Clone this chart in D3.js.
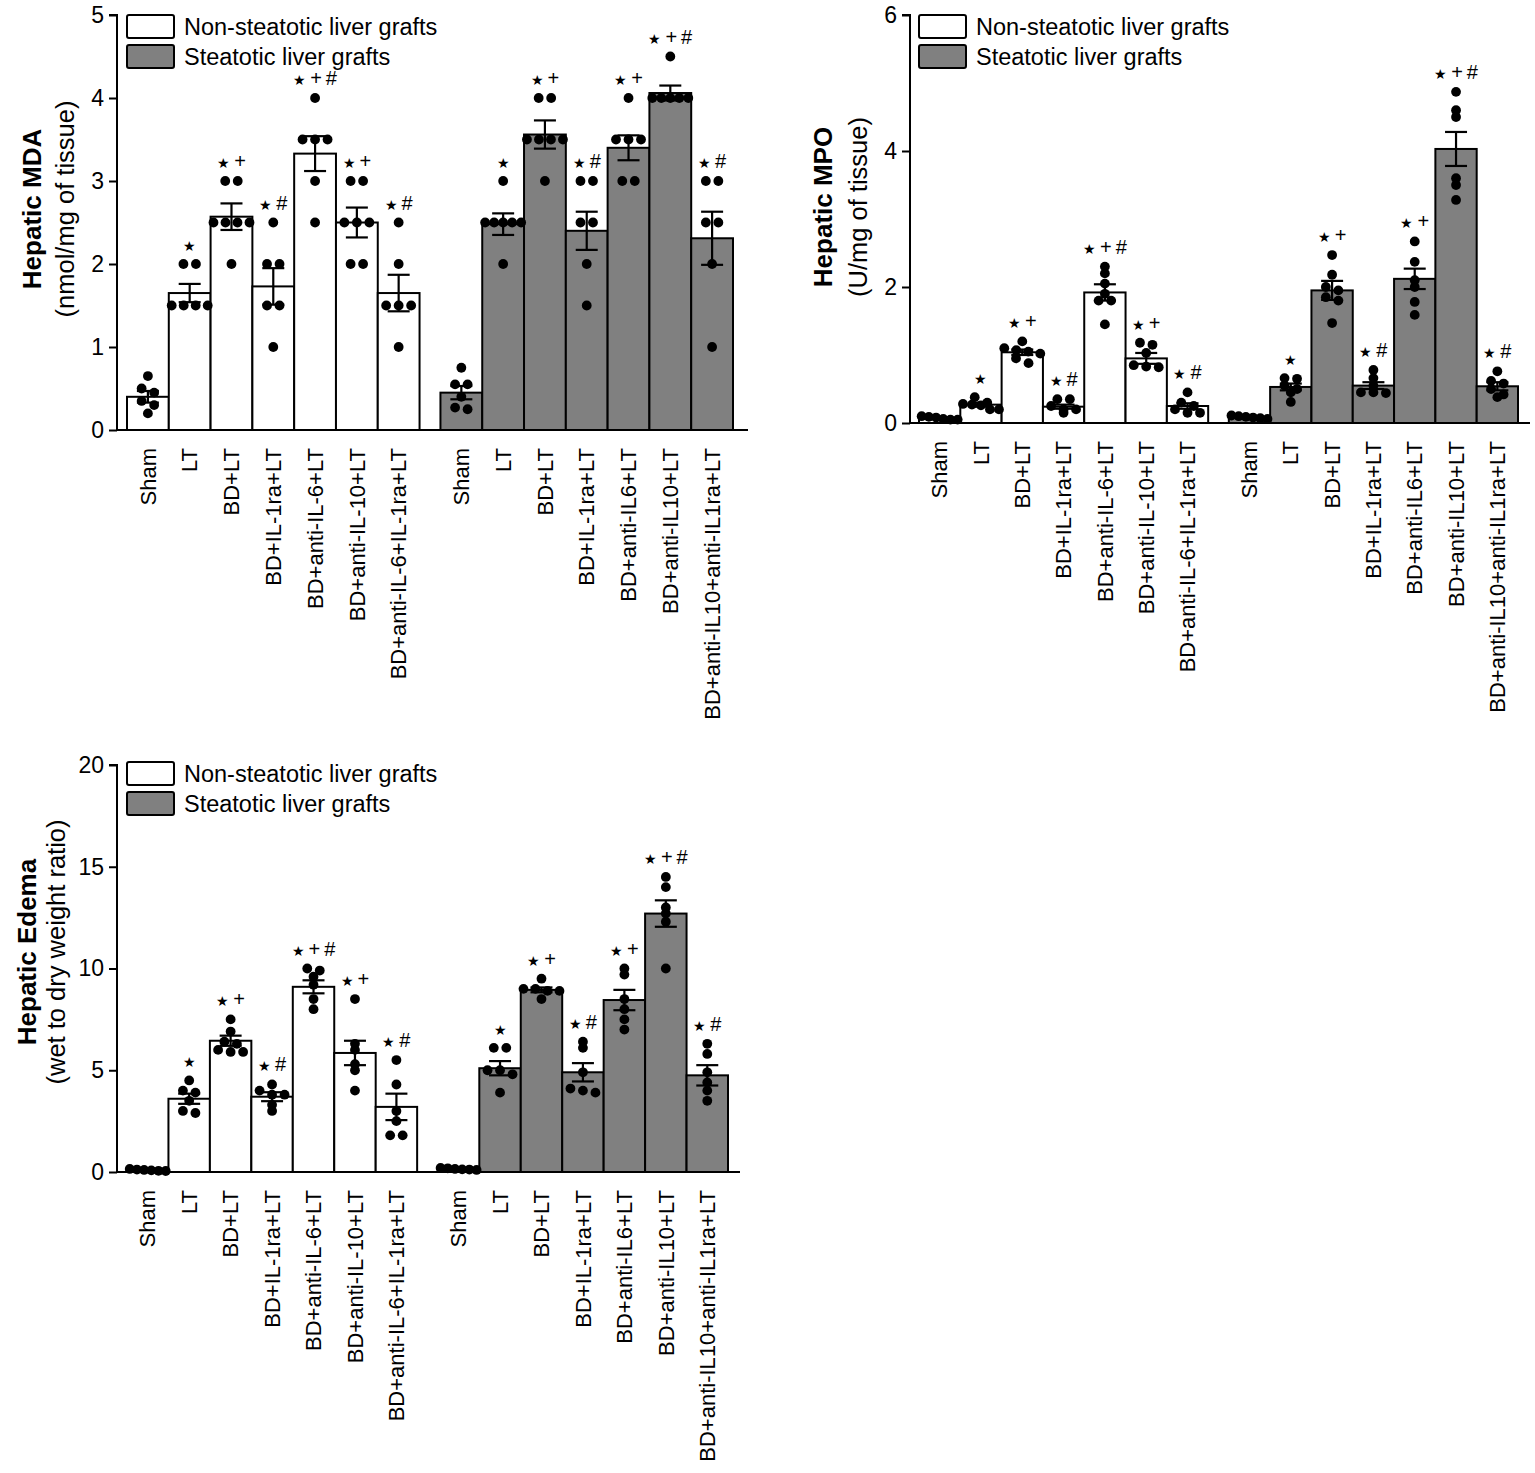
<!DOCTYPE html>
<html><head><meta charset="utf-8">
<script src="https://cdn.jsdelivr.net/npm/d3@7/dist/d3.min.js"></script>
<style>body{margin:0;background:#fff}svg{display:block}</style>
</head><body>
<svg id="c" width="1535" height="1473"></svg>
<script>
// ---------- DATA ----------
const catNon = ["Sham","LT","BD+LT","BD+IL-1ra+LT","BD+anti-IL-6+LT","BD+anti-IL-10+LT","BD+anti-IL-6+IL-1ra+LT"];
const catSteat = ["Sham","LT","BD+LT","BD+IL-1ra+LT","BD+anti-IL6+LT","BD+anti-IL10+LT","BD+anti-IL10+anti-IL1ra+LT"];
const annotNon = ["","★","★+","★#","★+#","★+","★#"];
const annotSteat = ["","★","★+","★#","★+","★+#","★#"];
const legendLabels = ["Non-steatotic liver grafts","Steatotic liver grafts"];

const mdaTicks = [0,1,2,3,4,5];
const mdaNonMean = [0.40,1.65,2.57,1.73,3.33,2.50,1.65];
const mdaNonSem  = [0.07,0.11,0.16,0.22,0.21,0.18,0.22];
const mdaNonPts = [
  [0.65,0.5,0.45,0.35,0.3,0.2],
  [2.0,2.0,1.5,1.5,1.5,1.5],
  [3.0,3.0,2.5,2.5,2.5,2.5,2.0],
  [2.5,2.0,2.0,1.5,1.5,1.0],
  [4.0,3.5,3.5,3.5,3.0,2.5],
  [3.0,3.0,2.5,2.5,2.5,2.0,2.0],
  [2.5,2.0,1.5,1.5,1.5,1.0]];
const mdaSteatMean = [0.45,2.48,3.56,2.40,3.40,4.06,2.31];
const mdaSteatSem  = [0.08,0.13,0.17,0.23,0.15,0.09,0.32];
const mdaSteatPts = [
  [0.75,0.55,0.55,0.4,0.27,0.25],
  [3.0,2.5,2.5,2.5,2.5,2.5,2.0],
  [4.0,4.0,3.5,3.5,3.5,3.5,3.0],
  [3.0,3.0,2.5,2.5,2.0,1.5],
  [4.0,3.5,3.5,3.5,3.0,3.0],
  [4.5,4.0,4.0,4.0,4.0,4.0],
  [3.0,3.0,2.5,2.5,2.0,1.0]];

const mpoTicks = [0,2,4,6];
const mpoNonMean = [0.07,0.27,1.04,0.24,1.92,0.95,0.25];
const mpoNonSem  = [0.01,0.03,0.04,0.03,0.12,0.08,0.04];
const mpoNonPts = [
  [0.1,0.09,0.08,0.06,0.05,0.05],
  [0.38,0.3,0.28,0.27,0.26,0.2,0.2],
  [1.2,1.1,1.07,1.05,1.02,0.95,0.88],
  [0.35,0.35,0.25,0.2,0.2,0.15],
  [2.3,2.2,2.05,1.9,1.8,1.8,1.45],
  [1.18,1.15,1.03,0.85,0.83,0.82],
  [0.45,0.3,0.25,0.2,0.15,0.15]];
const mpoSteatMean = [0.08,0.53,1.95,0.55,2.12,4.03,0.54];
const mpoSteatSem  = [0.01,0.05,0.14,0.05,0.15,0.25,0.06];
const mpoSteatPts = [
  [0.11,0.1,0.09,0.08,0.07,0.06],
  [0.66,0.65,0.55,0.5,0.45,0.31],
  [2.47,2.18,2.0,1.95,1.85,1.8,1.47],
  [0.78,0.66,0.55,0.45,0.45,0.44],
  [2.67,2.37,2.1,2.0,1.78,1.59],
  [4.87,4.6,4.5,3.6,3.5,3.28],
  [0.76,0.62,0.58,0.5,0.42,0.38]];

const edTicks = [0,5,10,15,20];
const edNonMean = [0.1,3.6,6.45,3.7,9.1,5.85,3.2];
const edNonSem  = [0.02,0.25,0.25,0.22,0.32,0.6,0.65];
const edNonPts = [
  [0.15,0.12,0.1,0.08,0.06,0.05],
  [4.5,4.0,3.9,3.5,3.0,2.9],
  [7.5,6.9,6.4,6.3,6.0,5.9,5.9],
  [4.3,4.0,3.8,3.8,3.3,3.0],
  [10.0,9.9,9.6,9.2,8.5,8.0],
  [8.5,6.3,6.0,5.3,5.0,4.0],
  [5.5,4.3,3.0,2.5,1.8,1.8]];
const edSteatMean = [0.15,5.1,8.95,4.9,8.45,12.7,4.75];
const edSteatSem  = [0.02,0.35,0.12,0.45,0.5,0.65,0.5];
const edSteatPts = [
  [0.2,0.18,0.15,0.13,0.12,0.1],
  [6.1,6.1,5.0,5.0,4.8,3.9],
  [9.5,9.0,9.0,8.9,8.9,8.5],
  [6.4,6.1,4.9,4.1,4.0,3.9],
  [10.0,9.7,8.5,8.0,7.5,7.0],
  [14.5,14.0,13.0,12.7,12.3,10.0],
  [6.3,5.8,4.9,4.4,4.0,3.5]];

// ---------- STYLE / LAYOUT ----------
const FONT = "'Liberation Sans', Arial, Helvetica, sans-serif";
const GREY = "#808080";
const svg = d3.select("#c");
svg.append("rect").attr("width",1535).attr("height",1473).attr("fill","#fff");

function panel(cfg){
  const g = svg.append("g");
  const y = d3.scaleLinear().domain([0, cfg.yMax]).range([cfg.yZero, cfg.yTop]);
  const x = d3.scaleLinear().domain([0, 14.5]).range([cfg.barStart, cfg.barEnd]);
  const bw = x(1) - x(0);

  // y axis
  const ax = d3.axisLeft(y).tickValues(cfg.ticks).tickSize(8).tickPadding(5).tickFormat(d3.format("d"));
  const ag = g.append("g").attr("transform", `translate(${cfg.axisX},0)`).call(ax);
  ag.select(".domain").attr("stroke","#000").attr("stroke-width",2).attr("d", `M-8,${cfg.yTop}H0V${cfg.yZero}`);
  ag.selectAll(".tick line").attr("stroke","#000").attr("stroke-width",2);
  ag.selectAll(".tick text").attr("font-family",FONT).attr("font-size",23).attr("fill","#000");

  // titles
  g.append("text").attr("transform",`translate(${cfg.titleX},${cfg.titleY}) rotate(-90)`)
    .attr("text-anchor","middle").attr("dy","0.35em").attr("font-family",FONT).attr("font-weight","bold")
    .attr("font-size",26).text(cfg.title);
  g.append("text").attr("transform",`translate(${cfg.subX},${cfg.titleY}) rotate(-90)`)
    .attr("text-anchor","middle").attr("dy","0.35em").attr("font-family",FONT)
    .attr("font-size",25.5).text(cfg.subtitle);

  const groups = [
    {cats: catNon, mean: cfg.nonMean, sem: cfg.nonSem, pts: cfg.nonPts, ann: annotNon, fill: "#fff", off: 0},
    {cats: catSteat, mean: cfg.steatMean, sem: cfg.steatSem, pts: cfg.steatPts, ann: annotSteat, fill: GREY, off: 7.5}
  ];
  groups.forEach(gr => {
    const rows = gr.cats.map((c,i)=>({c, i, m: gr.mean[i], s: gr.sem[i], p: gr.pts[i], a: gr.ann[i], cx: x(i+gr.off)+bw/2, left: x(i+gr.off)}));
    // bars
    g.selectAll(null).data(rows).enter().append("rect")
      .attr("x", d=>d.left).attr("width", bw).attr("y", d=>y(d.m)).attr("height", d=>y(0)-y(d.m))
      .attr("fill", gr.fill).attr("stroke","#000").attr("stroke-width",2);
    // error bars
    rows.forEach(d=>{
      const e = g.append("g").attr("stroke","#000").attr("stroke-width",2.2);
      e.append("line").attr("x1",d.cx).attr("x2",d.cx).attr("y1",y(d.m+d.s)).attr("y2",y(d.m-d.s));
      e.append("line").attr("x1",d.cx-11).attr("x2",d.cx+11).attr("y1",y(d.m+d.s)).attr("y2",y(d.m+d.s));
      e.append("line").attr("x1",d.cx-11).attr("x2",d.cx+11).attr("y1",y(d.m-d.s)).attr("y2",y(d.m-d.s));
    });
    // dots (spread horizontally when overlapping)
    rows.forEach(d=>{
      const vals = d.p.slice().sort((a,b)=>b-a);
      const clusters = [];
      vals.forEach(v=>{
        const last = clusters[clusters.length-1];
        if (last && Math.abs(y(last[0]) - y(v)) < 6) last.push(v); else clusters.push([v]);
      });
      clusters.forEach(cl=>{
        const n = cl.length;
        const sp = n>1 ? Math.min(12.5, 36/(n-1)) : 0;
        cl.forEach((v,k)=>{
          g.append("circle").attr("cx", d.cx + (k-(n-1)/2)*sp).attr("cy", y(v)).attr("r",4.9).attr("fill","#000");
        });
      });
      // annotation
      if (d.a){
        const topPix = Math.min(y(d.m+d.s), y(d3.max(d.p)));
        const t = g.append("text").attr("x", d.cx).attr("y", topPix-13).attr("text-anchor","middle")
          .attr("font-family",FONT).attr("fill","#000");
        Array.from(d.a).forEach((ch,k)=>{
          t.append("tspan").attr("dx", k? 4:0)
            .attr("font-size", ch==="★" ? 14 : 20).text(ch);
        });
      }
    });
    // x labels
    g.selectAll(null).data(rows).enter().append("text")
      .attr("transform", d=>`translate(${d.cx},${cfg.yZero+18}) rotate(-90)`)
      .attr("text-anchor","end").attr("dy","0.35em").attr("font-family",FONT).attr("font-size",22)
      .text(d=>d.c);
  });

  // x axis
  g.append("line").attr("x1",cfg.axisX).attr("x2",cfg.axisEnd).attr("y1",cfg.yZero).attr("y2",cfg.yZero)
    .attr("stroke","#000").attr("stroke-width",2);

  // legend
  const lg = g.append("g").attr("transform",`translate(${cfg.legX},${cfg.legY})`);
  legendLabels.forEach((lab,i)=>{
    lg.append("rect").attr("x",0).attr("y",i*30).attr("width",47).attr("height",23).attr("rx",2)
      .attr("fill", i? GREY : "#fff").attr("stroke","#000").attr("stroke-width",2);
    lg.append("text").attr("x",57).attr("y",i*30+12).attr("dy","0.33em").attr("font-family",FONT)
      .attr("font-size",23.5).text(lab);
  });
}

panel({yMax:5, ticks:mdaTicks, yZero:430, yTop:15, axisX:117, barStart:127, barEnd:733, axisEnd:748,
  title:"Hepatic MDA", subtitle:"(nmol/mg of tissue)", titleX:32, subX:65, titleY:209,
  nonMean:mdaNonMean, nonSem:mdaNonSem, nonPts:mdaNonPts, steatMean:mdaSteatMean, steatSem:mdaSteatSem, steatPts:mdaSteatPts,
  legX:127, legY:15});
panel({yMax:6, ticks:mpoTicks, yZero:423, yTop:15, axisX:910, barStart:919, barEnd:1518, axisEnd:1530,
  title:"Hepatic MPO", subtitle:"(U/mg of tissue)", titleX:823, subX:858, titleY:207,
  nonMean:mpoNonMean, nonSem:mpoNonSem, nonPts:mpoNonPts, steatMean:mpoSteatMean, steatSem:mpoSteatSem, steatPts:mpoSteatPts,
  legX:919, legY:15});
panel({yMax:20, ticks:edTicks, yZero:1172, yTop:765, axisX:117, barStart:127, barEnd:728, axisEnd:740,
  title:"Hepatic Edema", subtitle:"(wet to dry weight ratio)", titleX:27, subX:56, titleY:952,
  nonMean:edNonMean, nonSem:edNonSem, nonPts:edNonPts, steatMean:edSteatMean, steatSem:edSteatSem, steatPts:edSteatPts,
  legX:127, legY:762});
</script>
</body></html>
